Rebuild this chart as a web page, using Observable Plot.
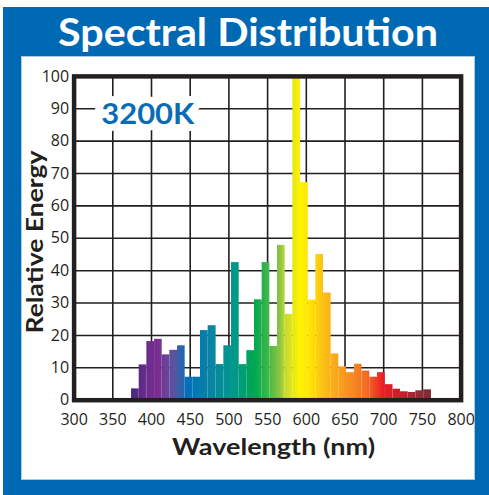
<!DOCTYPE html>
<html><head><meta charset="utf-8">
<script src="https://cdn.jsdelivr.net/npm/d3@7"></script>
<script src="https://cdn.jsdelivr.net/npm/@observablehq/plot@0.6"></script>
<style>
body{margin:0;background:#fff;}
#page{position:relative;width:489px;height:495px;overflow:hidden;background:#fff;}
#blue{position:absolute;left:3px;top:7px;width:486px;height:488px;background:#0069b4;}
#panel{position:absolute;left:22px;top:57px;width:452px;height:422px;background:#fff;box-shadow:0 0 0 1px #a9cbe8;}
#title{position:absolute;left:0;top:0;}
#chart{position:absolute;left:22px;top:57px;}
</style></head>
<body>
<div id="page">
  <div id="blue"></div>
  <svg id="title" width="489" height="57"><text x="248" y="45.5" text-anchor="middle" fill="#fff" font-family="Lato" font-weight="bold" font-size="37.5" textLength="380" lengthAdjust="spacingAndGlyphs">Spectral Distribution</text></svg>
  <div id="panel"></div>
  <div id="chart"></div>
</div>
<script>
// bin edges (nm)
const binEdges = [374.2,384.1,394,404,413.8,423.7,433.6,443.5,453.4,463.3,473.2,483.5,493.5,503.4,513.3,523.2,533.1,543,552.9,562.8,572.7,582.6,592.5,602.4,612.3,622.2,632.1,642,651.9,662.2,672,682,692,702,712,721.7,731.6,741.5,751.8,761.7];
// relative energy per bin
const energy = [3.5,10.9,18.1,18.8,14.0,15.4,16.8,7.1,7.1,21.5,23.0,11.0,16.8,42.5,11.0,15.3,31.0,42.5,16.6,47.8,26.5,100,67.2,30.9,45.0,33.1,14.3,10.3,8.5,11.1,9.0,7.1,8.5,4.8,3.4,2.6,2.4,2.9,3.2];
const xTicks = [300,350,400,450,500,550,600,650,700,750,800];
const yTicks = [0,10,20,30,40,50,60,70,80,90,100];
const spectrumNm = [375,395,409,430,448,477,508,534,551,567,573,592,605,622,653,679,700,722,740,762];
const spectrumColors = ["#472a7c","#6b2c8f","#7a2e8f","#5a55a0","#0070bb","#0a84a2","#00998a","#00a84f","#3fb649","#8fc641","#c4d92e","#fff200","#ffe500","#fdc015","#f7941d","#f26b24","#ec1c24","#c8202b","#9a2a35","#7f2c36"];
const badge = [{nm: 395.2, value: 88.1, label: "3200K"}];
const xTitle = ["Wavelength (nm)"];
const yTitle = ["Relative Energy"];

const bars = energy.map((e, i) => ({x1: binEdges[i], x2: binEdges[i + 1], y: e}));
const ink = "#231f20";

const plot = Plot.plot({
  width: 452, height: 422,
  marginLeft: 51.6, marginRight: 13.4, marginTop: 18.9, marginBottom: 79.3,
  x: {domain: [300, 800]},
  y: {domain: [0, 100]},
  style: {background: "transparent", fontFamily: "'Open Sans'", fontSize: "16px", color: ink, overflow: "visible"},
  marks: [
    Plot.gridX(xTicks, {stroke: ink, strokeOpacity: 1, strokeWidth: 1.6}),
    Plot.gridY(yTicks, {stroke: ink, strokeOpacity: 1, strokeWidth: 1.6}),
    Plot.rect(bars, {x1: "x1", x2: "x2", y1: 0, y2: "y", fill: "url(#spectrum)"}),
    Plot.text(badge, {x: "nm", y: "value", text: "label", fill: "#0b6cb6", stroke: "white", strokeWidth: 14, fontFamily: "Lato", fontWeight: "bold", fontSize: 28}),
    Plot.frame({stroke: ink, strokeWidth: 4.5}),
    Plot.axisX(xTicks, {tickSize: 0, tickPadding: 13, label: null, fontSize: 16}),
    Plot.axisY(yTicks, {tickSize: 0, tickPadding: 5, label: null, fontSize: 16}),
    Plot.text(xTitle, {text: d => d, frameAnchor: "bottom", textAnchor: "middle", dx: 6, dy: 54.3, lineAnchor: "bottom", fontFamily: "Lato", fontWeight: "bold", fontSize: 23, fill: ink}),
    Plot.text(yTitle, {text: d => d, frameAnchor: "left", textAnchor: "middle", rotate: -90, dx: -31.6, dy: 3.7, lineAnchor: "bottom", fontFamily: "Lato", fontWeight: "bold", fontSize: 22, fill: ink})
  ]
});

const xs = plot.scale("x");
const svg = d3.select(plot);
const grad = svg.insert("defs", ":first-child").append("linearGradient")
  .attr("id", "spectrum").attr("gradientUnits", "userSpaceOnUse")
  .attr("x1", xs.apply(300)).attr("x2", xs.apply(800)).attr("y1", 0).attr("y2", 0);
spectrumNm.forEach((w, i) => {
  grad.append("stop").attr("offset", (w - 300) / 500).attr("stop-color", spectrumColors[i]);
});
const lengths = {"3200K": 93, "Wavelength (nm)": 203, "Relative Energy": 183};
svg.selectAll("text").each(function() {
  const t = this.textContent;
  if (lengths[t]) { this.setAttribute("textLength", lengths[t]); this.setAttribute("lengthAdjust", "spacingAndGlyphs"); }
});
document.getElementById("chart").appendChild(plot);
</script>
</body></html>
